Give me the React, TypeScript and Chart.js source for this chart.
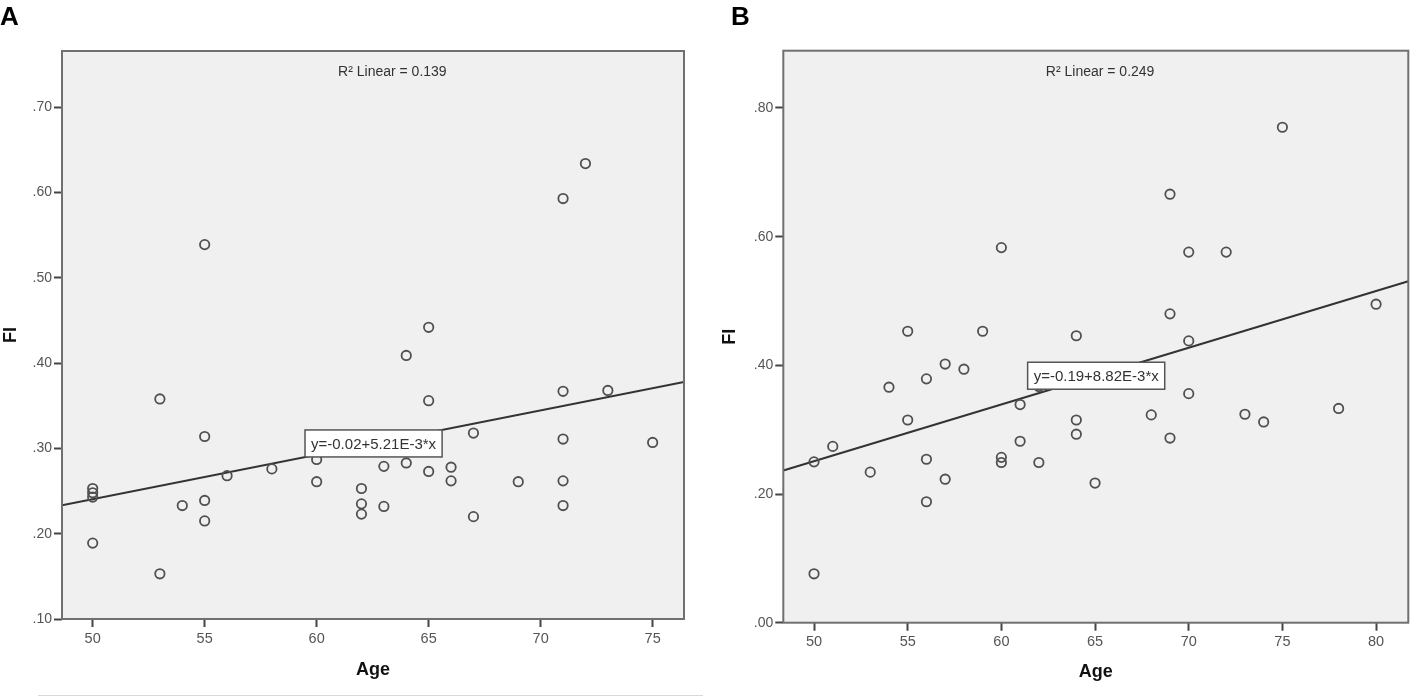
import React, { useEffect, useRef } from "react";
import { Chart, registerables } from "chart.js";

Chart.register(...registerables);

const FONT = "'Liberation Sans', Arial, sans-serif";

// Panel A data (age vs FI)
const AGE_A = [50, 50, 50, 50, 53, 53, 54, 55, 55, 55, 55, 56, 58, 60, 60, 62, 62, 62, 63, 63, 64, 64, 65, 65, 65, 66, 66, 67, 67, 69, 71, 71, 71, 71, 71, 72, 73, 75];
const FI_A = [0.253, 0.248, 0.243, 0.189, 0.358, 0.153, 0.233, 0.539, 0.314, 0.239, 0.215, 0.268, 0.276, 0.287, 0.261, 0.253, 0.235, 0.223, 0.279, 0.232, 0.409, 0.283, 0.442, 0.356, 0.273, 0.278, 0.262, 0.318, 0.22, 0.261, 0.593, 0.367, 0.311, 0.262, 0.233, 0.634, 0.368, 0.307];
const AGE_TICKS_A = [50, 55, 60, 65, 70, 75];
const FI_TICKS_A = [0.1, 0.2, 0.3, 0.4, 0.5, 0.6, 0.7];
const FIT_A = { intercept: -0.02, slope: 5.21e-3, r2: "0.139", eq: "y=-0.02+5.21E-3*x" };

// Panel B data
const AGE_B = [50, 50, 51, 53, 54, 55, 55, 56, 56, 56, 57, 57, 58, 59, 60, 60, 60, 61, 61, 62, 62, 64, 64, 64, 65, 68, 69, 69, 69, 70, 70, 70, 72, 73, 74, 75, 78, 80];
const FI_B = [0.25, 0.076, 0.274, 0.234, 0.366, 0.453, 0.315, 0.379, 0.254, 0.188, 0.402, 0.223, 0.394, 0.453, 0.583, 0.257, 0.249, 0.339, 0.282, 0.249, 0.367, 0.446, 0.315, 0.293, 0.217, 0.323, 0.666, 0.48, 0.287, 0.576, 0.438, 0.356, 0.576, 0.324, 0.312, 0.77, 0.333, 0.495];
const AGE_TICKS_B = [50, 55, 60, 65, 70, 75, 80];
const FI_TICKS_B = [0, 0.2, 0.4, 0.6, 0.8];
const FIT_B = { intercept: -0.19, slope: 8.82e-3, r2: "0.249", eq: "y=-0.19+8.82E-3*x" };

type PanelProps = {
  ages: number[];
  fi: number[];
  ageTicks: number[];
  fiTicks: number[];
  fit: { intercept: number; slope: number; r2: string; eq: string };
  xRange: [number, number];
  yRange: [number, number];
  labelAge: number;
  r2Age: number;
  left: number;
  width: number;
  pad: { left: number; top: number; right: number; bottom: number };
  yAxisWidth: number;
  xAxisHeight: number;
  titleBottomPad: number;
};

const fmtFi = (v: number) => v.toFixed(2).replace(/^0/, "");

const Panel = (p: PanelProps) => {
  const chartRef = useRef<HTMLCanvasElement | null>(null);
  const chartInstance = useRef<Chart | null>(null);

  useEffect(() => {
    if (chartInstance.current) chartInstance.current.destroy();
    const ctx = chartRef.current?.getContext("2d");
    if (!ctx) return;

    const [xMin, xMax] = p.xRange;
    const fitAt = (a: number) => p.fit.intercept + p.fit.slope * a;

    const panelPlugin = {
      id: "panel",
      beforeDraw(chart: any) {
        const { ctx: c, chartArea: a } = chart;
        c.save();
        c.fillStyle = "#f0f0f0";
        c.fillRect(a.left, a.top, a.right - a.left, a.bottom - a.top);
        c.restore();
      },
      afterDatasetsDraw(chart: any) {
        const { ctx: c, chartArea: a, scales } = chart;
        c.save();
        // frame
        c.strokeStyle = "#707070";
        c.lineWidth = 2;
        c.strokeRect(a.left, a.top, a.right - a.left, a.bottom - a.top);

        // R² label
        c.fillStyle = "#333";
        c.font = `14px ${FONT}`;
        c.textAlign = "center";
        c.textBaseline = "middle";
        c.fillText(`R² Linear = ${p.fit.r2}`, scales.x.getPixelForValue(p.r2Age), a.top + 21);

        // equation box on the fit line
        c.font = `15px ${FONT}`;
        const cx = scales.x.getPixelForValue(p.labelAge);
        const cy = scales.y.getPixelForValue(fitAt(p.labelAge));
        const w = c.measureText(p.fit.eq).width + 12;
        const h = 27;
        c.fillStyle = "#ffffff";
        c.fillRect(cx - w / 2, cy - h / 2, w, h);
        c.strokeStyle = "#555";
        c.lineWidth = 1.5;
        c.strokeRect(cx - w / 2, cy - h / 2, w, h);
        c.fillStyle = "#333";
        c.fillText(p.fit.eq, cx, cy + 1);
        c.restore();
      },
    };

    chartInstance.current = new Chart(ctx, {
      type: "scatter",
      data: {
        datasets: [
          {
            data: p.ages.map((a, i) => ({ x: a, y: p.fi[i] })),
            pointStyle: "circle",
            pointRadius: 4.7,
            pointBorderWidth: 1.8,
            borderColor: "#505050",
            backgroundColor: "rgba(0,0,0,0)",
          },
          {
            type: "line",
            data: [
              { x: xMin, y: fitAt(xMin) },
              { x: xMax, y: fitAt(xMax) },
            ],
            borderColor: "#333",
            borderWidth: 2,
            pointRadius: 0,
            fill: false,
          } as any,
        ],
      },
      options: {
        responsive: true,
        maintainAspectRatio: false,
        animation: false,
        events: [],
        layout: { padding: p.pad },
        plugins: { legend: { display: false }, tooltip: { enabled: false } },
        scales: {
          x: {
            type: "linear",
            min: xMin,
            max: xMax,
            afterBuildTicks: (s: any) => {
              s.ticks = p.ageTicks.map((value) => ({ value }));
            },
            afterFit: (s: any) => {
              s.height = p.xAxisHeight;
            },
            grid: {
              drawOnChartArea: false,
              drawTicks: true,
              tickLength: 8,
              tickColor: "#444",
              tickWidth: 2,
            },
            border: { display: false },
            ticks: {
              color: "#555",
              font: { family: FONT, size: 14.5 },
              padding: 3,
              maxRotation: 0,
              autoSkip: false,
            },
            title: {
              display: true,
              text: "Age",
              color: "#111",
              font: { family: FONT, size: 18, weight: "bold" },
              padding: { top: 0, bottom: p.titleBottomPad },
            },
          },
          y: {
            type: "linear",
            min: p.yRange[0],
            max: p.yRange[1],
            afterBuildTicks: (s: any) => {
              s.ticks = p.fiTicks.map((value) => ({ value }));
            },
            afterFit: (s: any) => {
              s.width = p.yAxisWidth;
            },
            grid: {
              drawOnChartArea: false,
              drawTicks: true,
              tickLength: 8,
              tickColor: "#444",
              tickWidth: 2,
            },
            border: { display: false },
            ticks: {
              color: "#555",
              font: { family: FONT, size: 14 },
              padding: 2,
              autoSkip: false,
              callback: (v: any) => fmtFi(Number(v)),
            },
            title: {
              display: true,
              text: "FI",
              color: "#111",
              font: { family: FONT, size: 18, weight: "bold" },
              padding: { top: 0, bottom: 0 },
            },
          },
        },
      },
      plugins: [panelPlugin],
    });

    return () => {
      if (chartInstance.current) chartInstance.current.destroy();
      chartInstance.current = null;
    };
  }, []);

  return (
    <div style={{ position: "absolute", left: p.left, top: 0, width: p.width, height: 697 }}>
      <canvas ref={chartRef}></canvas>
    </div>
  );
};

const letterStyle: React.CSSProperties = {
  position: "absolute",
  top: 3,
  fontFamily: FONT,
  fontWeight: "bold",
  fontSize: 26,
  lineHeight: "26px",
  color: "#000",
};

export default function App() {
  return (
    <div
      style={{
        position: "absolute",
        left: 0,
        top: 0,
        width: 1417,
        height: 697,
        background: "#fff",
        overflow: "hidden",
      }}
    >
      <Panel
        ages={AGE_A}
        fi={FI_A}
        ageTicks={AGE_TICKS_A}
        fiTicks={FI_TICKS_A}
        fit={FIT_A}
        xRange={[48.63, 76.4]}
        yRange={[0.1, 0.766]}
        labelAge={62.54}
        r2Age={63.38}
        left={0}
        width={700}
        pad={{ left: 0, top: 51, right: 16, bottom: 0 }}
        yAxisWidth={62}
        xAxisHeight={78}
        titleBottomPad={16}
      />
      <Panel
        ages={AGE_B}
        fi={FI_B}
        ageTicks={AGE_TICKS_B}
        fiTicks={FI_TICKS_B}
        fit={FIT_B}
        xRange={[48.36, 81.72]}
        yRange={[0, 0.889]}
        labelAge={65.06}
        r2Age={65.27}
        left={700}
        width={717}
        pad={{ left: 19, top: 50.7, right: 8.7, bottom: 0 }}
        yAxisWidth={64.3}
        xAxisHeight={74.3}
        titleBottomPad={14.5}
      />
      <div style={{ ...letterStyle, left: 0 }}>A</div>
      <div style={{ ...letterStyle, left: 731 }}>B</div>
      <div
        style={{
          position: "absolute",
          left: 38,
          top: 695,
          width: 665,
          height: 1,
          background: "#d9d9d9",
        }}
      />
    </div>
  );
}
